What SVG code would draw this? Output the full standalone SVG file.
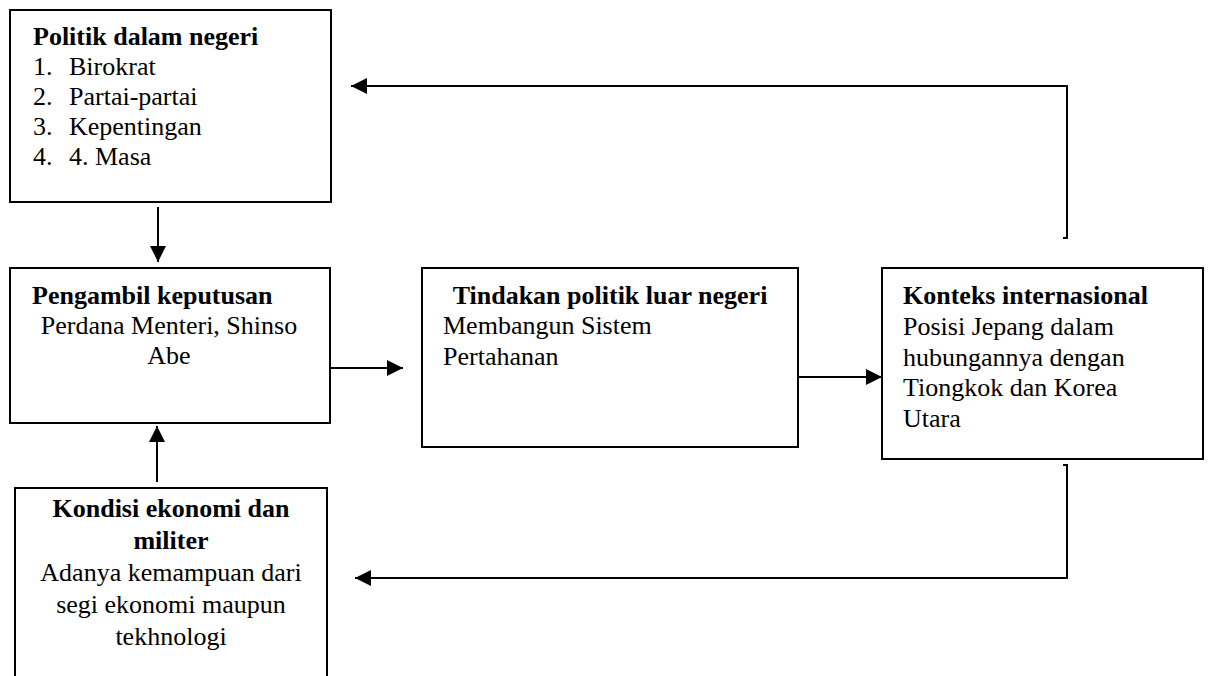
<svg xmlns="http://www.w3.org/2000/svg" width="1209" height="676" viewBox="0 0 1209 676">
<defs>
<style>
.box{fill:#fff;stroke:#000;stroke-width:2}
.t{font-family:"Liberation Serif","Times New Roman",serif;font-size:26px;fill:#000}
.b{font-weight:bold}
.m{text-anchor:middle}
.c{fill:none;stroke:#000;stroke-width:2}
</style>
<marker id="ah" markerUnits="userSpaceOnUse" markerWidth="16" markerHeight="16" refX="16" refY="8" orient="auto" viewBox="0 0 16 16">
<path d="M0,0 L16,8 L0,16 z" fill="#000"/>
</marker>
</defs>
<rect width="1209" height="676" fill="#fff"/>
<g id="connectors">
<path class="c" d="M158,207 L158,262" marker-end="url(#ah)"/>
<path class="c" d="M157,482 L157,426" marker-end="url(#ah)"/>
<path class="c" d="M329,368 L403,368" marker-end="url(#ah)"/>
<path class="c" d="M798,377 L882,377" marker-end="url(#ah)"/>
<path class="c" d="M1063,238 L1067,238 L1067,86 L351,86" marker-end="url(#ah)"/>
<path class="c" d="M1063,465 L1067,465 L1067,578 L355,578" marker-end="url(#ah)"/>
</g>
<g id="politik">
<rect class="box" x="10" y="10" width="321" height="192"/>
<text class="t b" x="33" y="45">Politik dalam negeri</text>
<text class="t" x="33" y="75">1.</text><text class="t" x="69" y="75">Birokrat</text>
<text class="t" x="33" y="105">2.</text><text class="t" x="69" y="105">Partai-partai</text>
<text class="t" x="33" y="135">3.</text><text class="t" x="69" y="135">Kepentingan</text>
<text class="t" x="33" y="165">4.</text><text class="t" x="69" y="165">4. Masa</text>
</g>
<g id="pengambil">
<rect class="box" x="10" y="268" width="320" height="155"/>
<text class="t b" x="32" y="304">Pengambil keputusan</text>
<text class="t m" x="169" y="334">Perdana Menteri, Shinso</text>
<text class="t m" x="169" y="364">Abe</text>
</g>
<g id="kondisi">
<rect class="box" x="15" y="488" width="312" height="200"/>
<text class="t b m" x="171" y="517">Kondisi ekonomi dan</text>
<text class="t b m" x="171" y="549">militer</text>
<text class="t m" x="171" y="581">Adanya kemampuan dari</text>
<text class="t m" x="171" y="613">segi ekonomi maupun</text>
<text class="t m" x="171" y="645">tekhnologi</text>
</g>
<g id="tindakan">
<rect class="box" x="422" y="268" width="376" height="179"/>
<text class="t b m" x="610" y="304">Tindakan politik luar negeri</text>
<text class="t" x="443" y="334">Membangun Sistem</text>
<text class="t" x="443" y="365">Pertahanan</text>
</g>
<g id="konteks">
<rect class="box" x="882" y="268" width="321" height="191"/>
<text class="t b" x="903" y="304">Konteks internasional</text>
<text class="t" x="903" y="335">Posisi Jepang dalam</text>
<text class="t" x="903" y="366">hubungannya dengan</text>
<text class="t" x="903" y="396">Tiongkok dan Korea</text>
<text class="t" x="903" y="427">Utara</text>
</g>
</svg>
